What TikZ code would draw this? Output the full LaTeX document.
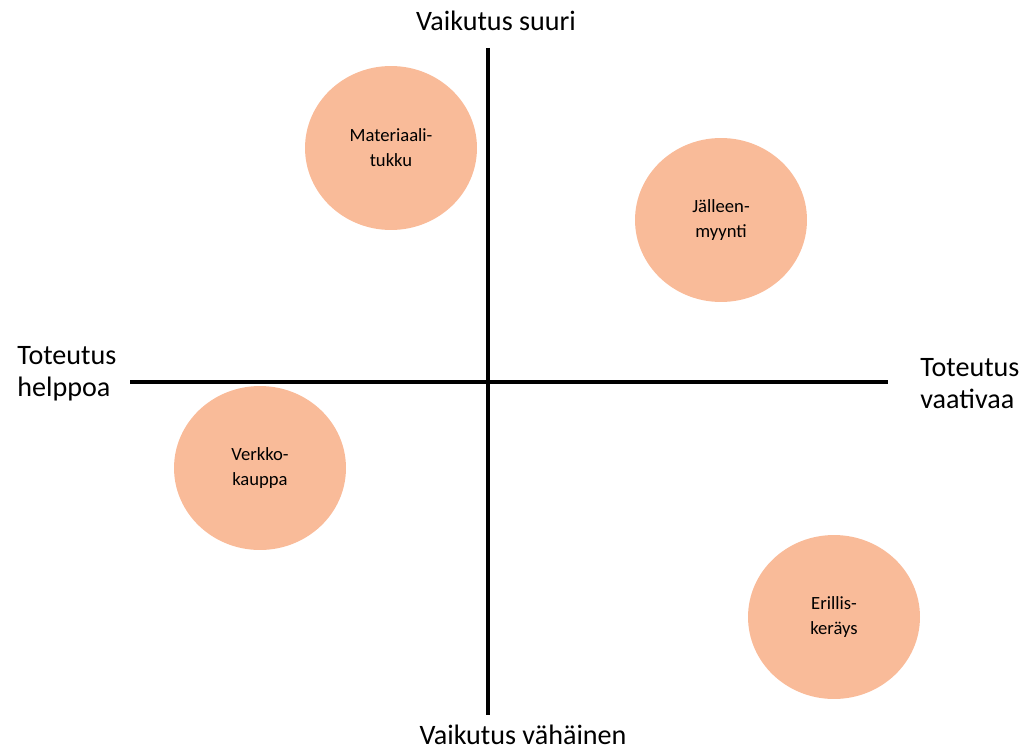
\documentclass[tikz,border=0pt]{standalone}
\usepackage{fontspec}
\setmainfont{Carlito}
\usepackage{tikz}
\usetikzlibrary{positioning,shapes}
\definecolor{peach}{HTML}{F9BB99}

\begin{document}
\begin{tikzpicture}
	[ x=0.02cm, y=-0.02cm,
		idea/.style={ellipse,fill=peach,minimum width=3.44cm,minimum height=3.28cm,inner sep=0pt,align=center,font=\fontsize{10.6}{14.2}\selectfont},
		axislabel/.style={font=\fontsize{16}{18.2}\selectfont,inner sep=0pt},
		axis/.style={line width=2pt}]

	\useasboundingbox (0,0) rectangle (1023,750);

	\coordinate (top) at (488,48);
	\coordinate (bottom) at (488,715);
	\coordinate (left) at (130,382);
	\coordinate (right) at (888,382);

	\draw[axis] (top) -- (bottom);
	\draw[axis] (left) -- (right);

	\node[axislabel] (high) at (496,21) {Vaikutus suuri};
	\node[axislabel] (low) at (523,735) {Vaikutus vähäinen};
	\node[axislabel,align=left,anchor=west] (easy) at (17,374) {Toteutus\\helppoa};
	\node[axislabel,align=left,anchor=west] (hard) at (920,384) {Toteutus\\vaativaa};

	\node[idea] (wholesale) at (391,148) {Materiaali-\\tukku};
	\node[idea] (resale) at (721,220) {Jälleen-\\myynti};
	\node[idea] (webshop) at (260,468) {Verkko-\\kauppa};
	\node[idea] (collection) at (834,617) {Erillis-\\keräys};
\end{tikzpicture}
\end{document}
